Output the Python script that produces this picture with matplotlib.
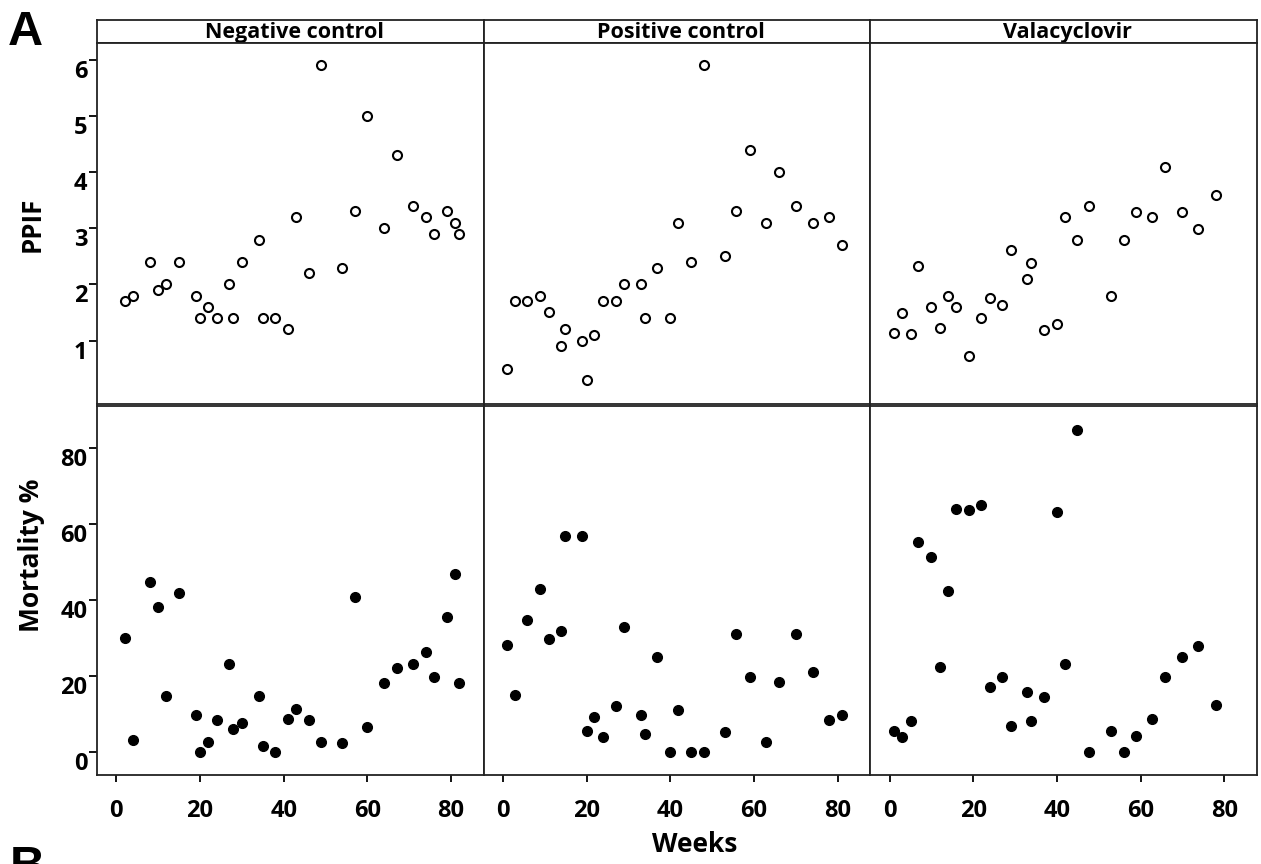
import matplotlib
matplotlib.use('Agg')
import matplotlib.pyplot as plt
from matplotlib.gridspec import GridSpec

plt.rcParams['font.family'] = ['Open Sans', 'DejaVu Sans']
plt.rcParams['font.weight'] = 'bold'

groups = ['Negative control', 'Positive control', 'Valacyclovir']

neg_weeks = [2, 4, 8, 10, 12, 15, 19, 20, 22, 24, 27, 28, 30, 34, 35, 38, 41, 43, 46, 49,
             54, 57, 60, 64, 67, 71, 74, 76, 79, 81, 82]
neg_ppif = [1.7, 1.8, 2.4, 1.9, 2.0, 2.4, 1.8, 1.4, 1.6, 1.4, 2.0, 1.4, 2.4, 2.8, 1.4, 1.4,
            1.2, 3.2, 2.2, 5.9, 2.3, 3.3, 5.0, 3.0, 4.3, 3.4, 3.2, 2.9, 3.3, 3.1, 2.9]
neg_mort = [30, 3.2, 44.7, 38, 14.8, 41.8, 9.6, 0, 2.5, 8.3, 23, 6.1, 7.6, 14.6, 1.6, 0,
            8.7, 11.3, 8.3, 2.5, 2.3, 40.8, 6.4, 18.2, 22, 23.1, 26.2, 19.7, 35.6, 46.7, 18.2]

pos_weeks = [1, 3, 5.8, 8.8, 10.9, 13.9, 14.8, 18.9, 20, 21.8, 23.8, 27, 29, 33, 34, 36.8,
             39.9, 41.9, 45, 48, 53, 55.8, 59, 62.8, 66, 70.1, 74, 77.9, 81]
pos_ppif = [0.5, 1.7, 1.7, 1.8, 1.5, 0.9, 1.2, 1.0, 0.3, 1.1, 1.7, 1.7, 2.0, 2.0, 1.4, 2.3,
            1.4, 3.1, 2.4, 5.9, 2.5, 3.3, 4.4, 3.1, 4.0, 3.4, 3.1, 3.2, 2.7]
pos_mort = [28.2, 14.9, 34.7, 42.8, 29.8, 31.8, 56.8, 56.8, 5.5, 9.1, 3.9, 12.0, 32.8, 9.7,
            4.6, 25.0, 0, 11.1, 0, 0, 5.2, 30.9, 19.7, 2.5, 18.4, 30.9, 21.1, 8.4, 9.7]

val_weeks = [1, 3, 5, 6.9, 10, 12, 13.9, 15.9, 19, 21.9, 24, 26.9, 28.9, 32.9, 33.9, 36.9,
             39.9, 42, 44.8, 47.7, 53, 55.9, 58.8, 62.8, 65.8, 69.8, 73.8, 77.9]
val_ppif = [1.14, 1.49, 1.12, 2.33, 1.6, 1.23, 1.79, 1.6, 0.73, 1.4, 1.75, 1.64, 2.61, 2.09,
            2.39, 1.18, 1.3, 3.2, 2.8, 3.39, 1.79, 2.8, 3.29, 3.2, 4.09, 3.29, 2.99, 3.59]
val_mort = [5.5, 3.8, 8.1, 55.2, 51.3, 22.4, 42.2, 63.9, 63.6, 64.9, 17.1, 19.7, 6.8, 15.8,
            8.1, 14.3, 63.0, 23.1, 84.6, 0, 5.4, 0, 4.2, 8.7, 19.7, 24.9, 27.9, 12.4]

weeks = [neg_weeks, pos_weeks, val_weeks]
ppif = [neg_ppif, pos_ppif, val_ppif]
mort = [neg_mort, pos_mort, val_mort]

W, H = 1261, 864
fig = plt.figure(figsize=(W / 100, H / 100), dpi=100)
gs = GridSpec(4, 3, figure=fig, left=97 / W, right=1257 / W, top=1 - 20 / H, bottom=1 - 775 / H,
              height_ratios=[23, 361, 2, 369], wspace=0, hspace=0)

lw = 1.3
tsize = 17
for i in range(3):
    strip = fig.add_subplot(gs[0, i])
    strip.set_xticks([])
    strip.set_yticks([])
    strip.text(0.51, 0.2, groups[i], ha='center', va='baseline', fontsize=15.5, fontweight='bold',
               transform=strip.transAxes)

    top = fig.add_subplot(gs[1, i])
    top.plot(weeks[i], ppif[i], 'o', ls='none', ms=6.5, mfc='white', mec='black', mew=1.5)
    top.set_xlim(-4.6, 87.8)
    top.set_ylim(-0.13, 6.3)
    top.set_xticks([])
    top.set_yticks([1, 2, 3, 4, 5, 6])

    bot = fig.add_subplot(gs[3, i])
    bot.plot(weeks[i], mort[i], 'o', ls='none', ms=7, mfc='black', mec='black')
    bot.set_xlim(-4.6, 87.8)
    bot.set_ylim(-6.1, 91)
    bot.set_xticks([0, 20, 40, 60, 80])
    bot.set_yticks([0, 20, 40, 60, 80])
    bot.tick_params(axis='x', length=5, width=lw, pad=12, labelsize=tsize)

    for ax in (strip, top, bot):
        for sp in ax.spines.values():
            sp.set_linewidth(lw)
            sp.set_color('#222222')

    for ax in (top, bot):
        if i == 0:
            ax.tick_params(axis='y', length=6, width=lw, pad=1, labelsize=tsize)
            plt.setp(ax.get_yticklabels(), va='top')
        else:
            ax.tick_params(axis='y', left=False, labelleft=False)

fig.text(32 / W, 1 - 224 / H, 'PPIF', rotation=90, ha='center', va='center', fontsize=18.5,
         fontweight='bold')
fig.text(32 / W, 1 - 555 / H, 'Mortality %', rotation=90, ha='center', va='center', fontsize=19,
         fontweight='bold')
fig.text(695 / W, 1 - 845 / H, 'Weeks', ha='center', va='center', fontsize=19, fontweight='bold')
fig.text(8 / W, 1 - 10 / H, 'A', ha='left', va='top', fontsize=35, fontweight='bold',
         family=['Liberation Sans', 'DejaVu Sans'])
fig.text(10 / W, 1 - 845 / H, 'B', ha='left', va='top', fontsize=35, fontweight='bold',
         family=['Liberation Sans', 'DejaVu Sans'])

fig.savefig('out.png', dpi=100)
